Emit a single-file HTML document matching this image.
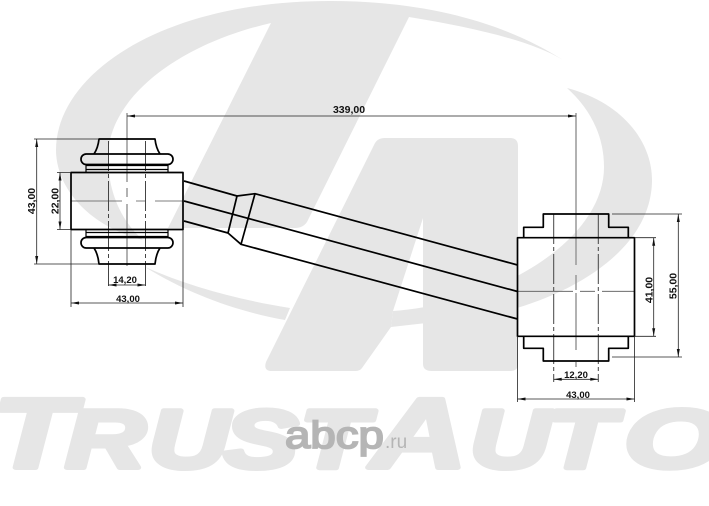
<!DOCTYPE html>
<html><head><meta charset="utf-8"><style>
html,body{margin:0;padding:0;background:#fff;width:709px;height:506px;overflow:hidden}
svg{display:block}
.dim{font-family:"Liberation Sans",sans-serif;font-size:10.5px;font-weight:bold;fill:#111;text-anchor:middle}
</style></head><body>
<svg width="709" height="506" viewBox="0 0 709 506" xmlns="http://www.w3.org/2000/svg">
<g fill="#e6e6e6">
<path d="M563,60 C500,20 420,1 330,1 C160,1 56,75 56,150 C56,185 85,225 143,240 C120,220 108,190 108,157 C108,100 175,45 271,23 L168,228 L295,228 Q303,228 307,222 L409,17 C470,27 530,40 563,60 Z"/>
<path d="M567,88 C624,103 652,143 652,180 C652,250 570,300 480,317 L391,327 L393,311 C500,303 604,240 604,167 C604,133 588,107 567,88 Z"/>
<path d="M385,138 L510,138 Q518,138 518,146 L518,364 Q518,371 510,371 L432,371 Q423,371 423,364 L423,218 L393,311 L391,327 L362,368 Q360,371 355,371 L272,371 Q263,371 266,362 L375,143 Q378,138 385,138 Z"/>
<path d="M145,267 C190,295 240,312 285,320 L290,308 C240,300 190,287 145,267 Z"/>
</g>
<g fill="#e6e6e6" stroke="#e6e6e6" stroke-width="5" stroke-linejoin="round" font-family="Liberation Sans,sans-serif" font-weight="bold" font-style="italic">
<text transform="scale(1.34,1)" y="467.5"><tspan x="-6" font-size="99">T</tspan><tspan x="48.7" font-size="83">R</tspan><tspan x="110.8" font-size="83">U</tspan><tspan x="167" font-size="83">S</tspan><tspan x="223.5" font-size="83">T</tspan><tspan x="277" font-size="99">A</tspan><tspan x="350.5" font-size="83">U</tspan><tspan x="408" font-size="83">T</tspan></text>
<text transform="scale(1.55,1)" x="402.5" y="467.5" font-size="83">O</text>
</g>
<g transform="translate(285,448) scale(1.2,1)">
<text x="0" y="0" font-family="Liberation Sans,sans-serif" font-size="38" fill="#b5b5b5" stroke="#b5b5b5" stroke-width="1.8">abcp</text>
</g>
<text x="385" y="448" font-family="Liberation Sans,sans-serif" font-size="19" fill="#b5b5b5">.ru</text>

<!-- center lines -->
<g fill="none" stroke="#999" stroke-width="1.5">
<path d="M127,113 V182 M127,188 V197 M127,204 V266"/>
<path d="M576,113 V265 M576,275 V290 M576,293 V350 M576,362 V367"/>
</g>
<g fill="none" stroke="#555" stroke-width=".8">
<path d="M71,201 H122 M136,201 H146 M155,201 H183"/>
<path d="M517.5,291.3 H573 M580,291.3 H595 M602,291.3 H634.5"/>
</g>
<g fill="none" stroke="#444" stroke-width="1">
<path d="M108.5,141 V286 M145.5,141 V286" stroke-dasharray="30,3,4,3"/>
<path d="M553.7,214 V382 M598.3,214 V382" stroke-dasharray="30,3,4,3"/>
</g>

<!-- parts -->
<g fill="none" stroke="#000" stroke-width="1.7" stroke-linejoin="round">
<rect x="71" y="172.5" width="112" height="57"/>
<path d="M94,154 Q98,148 99,139 H155 Q156,148 160,154"/>
<rect x="81" y="154" width="92" height="10.5" rx="5.2"/>
<path d="M86,164.5 V172 M168,164.5 V172 M86,165.5 H168 M86,169.5 H168" stroke-width="1.2"/>
<path d="M94,248 Q98,254 99,264 H155 Q156,254 160,248"/>
<rect x="81" y="237.5" width="92" height="10.5" rx="5.2"/>
<path d="M86,230 V237.5 M168,230 V237.5 M86,232.5 H168 M86,236.5 H168" stroke-width="1.2"/>
<path d="M184,181 L237,196 L255,193.7 L517.5,265"/>
<path d="M184,201 L517.5,291.5"/>
<path d="M184,221 L228,233 L241,244.3 L517.5,319"/>
<path d="M237,196 L228,233 M255,193.7 L241,244.3"/>
<rect x="517.5" y="237.7" width="117" height="98.6"/>
<path d="M523.7,237.7 V227.3 H543.3 V214 H608.7 V227.3 H628.3 V237.7"/>
<path d="M523.7,336.3 V348.3 H543.3 V361 H608.7 V348.3 H628.3 V336.3"/>
</g>

<!-- dimension lines -->
<g fill="none" stroke="#222" stroke-width=".8">
<path d="M127,116 H576"/>
<path d="M34,139 H99 M34,264 H99 M36.7,139 V264"/>
<path d="M57,172.5 H71 M57,229.5 H71 M60,172.5 V229.5"/>
<path d="M108.5,285 H145.5"/>
<path d="M71,230 V307 M183,230 V307 M71,303 H183"/>
<path d="M612,214 H682 M612,357 H682 M678.3,214 V357"/>
<path d="M634.5,237.7 H656 M634.5,336.3 H656 M653.7,237.7 V336.3"/>
<path d="M553.7,379.3 H598.3"/>
<path d="M517.5,336 V402 M634.5,336 V402 M517.5,399 H634.5"/>
</g>
<g fill="#111">
<path d="M127,116 l8,-1.5 v3 Z M576,116 l-8,-1.5 v3 Z"/>
<path d="M36.7,139 l-1.5,8 h3 Z M36.7,264 l-1.5,-8 h3 Z"/>
<path d="M60,172.5 l-1.5,8 h3 Z M60,229.5 l-1.5,-8 h3 Z"/>
<path d="M108.5,285 l8,-1.5 v3 Z M145.5,285 l-8,-1.5 v3 Z"/>
<path d="M71,303 l8,-1.5 v3 Z M183,303 l-8,-1.5 v3 Z"/>
<path d="M678.3,214 l-1.5,8 h3 Z M678.3,357 l-1.5,-8 h3 Z"/>
<path d="M653.7,237.7 l-1.5,8 h3 Z M653.7,336.3 l-1.5,-8 h3 Z"/>
<path d="M553.7,379.3 l8,-1.5 v3 Z M598.3,379.3 l-8,-1.5 v3 Z"/>
<path d="M517.5,399 l8,-1.5 v3 Z M634.5,399 l-8,-1.5 v3 Z"/>
</g>
<text class="dim" x="349" y="113">339,00</text>
<text class="dim" x="125" y="283" style="font-size:9.5px">14,20</text>
<text class="dim" x="128" y="302" style="font-size:9.5px">43,00</text>
<text class="dim" x="576" y="378" style="font-size:9.5px">12,20</text>
<text class="dim" x="578" y="398" style="font-size:9.5px">43,00</text>
<text class="dim" transform="translate(35,201) rotate(-90)">43,00</text>
<text class="dim" transform="translate(58.5,201) rotate(-90)">22,00</text>
<text class="dim" transform="translate(652.5,290) rotate(-90)">41,00</text>
<text class="dim" transform="translate(676.5,286) rotate(-90)">55,00</text>
</svg>
</body></html>
